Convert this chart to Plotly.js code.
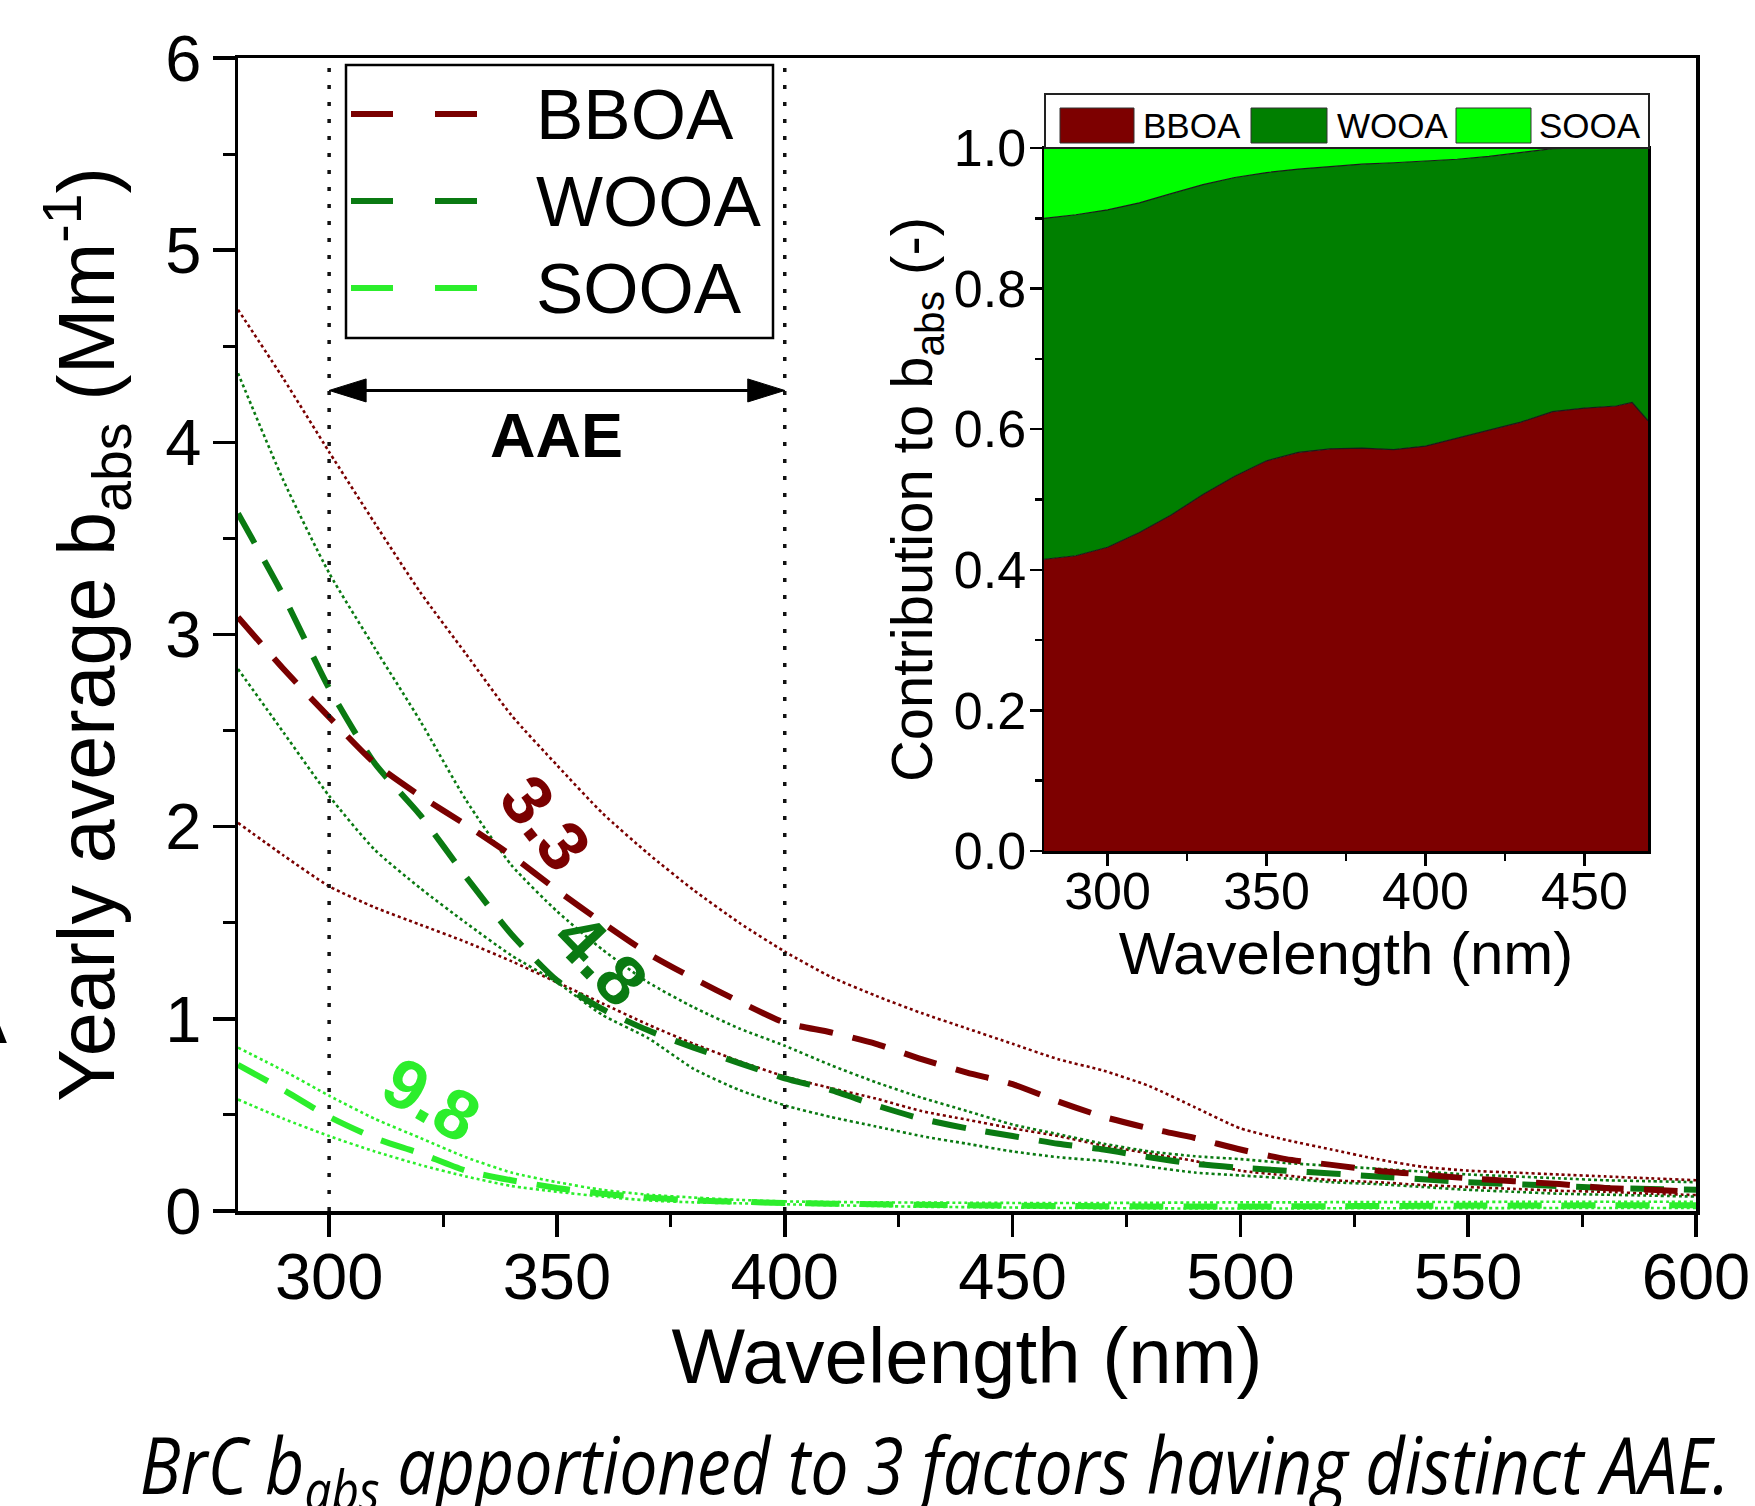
<!DOCTYPE html>
<html>
<head>
<meta charset="utf-8">
<script src="https://cdn.plot.ly/plotly-3.0.1.min.js"></script>
<style>
  html, body { margin: 0; padding: 0; background: #ffffff; }
  #chart { width: 1755px; height: 1506px; }
</style>
</head>
<body>
<div id="chart"></div>
<script>
// ---------------- data ----------------
const wavelength = [280,290,300,310,320,330,340,350,360,370,380,390,400,410,420,430,440,450,460,470,480,490,500,510,520,530,540,550,560,570,580,590,600];

const bboaMean  = [3.09,2.82,2.57,2.33,2.16,2.01,1.85,1.67,1.50,1.34,1.21,1.09,0.98,0.93,0.87,0.79,0.72,0.66,0.57,0.49,0.43,0.38,0.32,0.27,0.24,0.21,0.19,0.17,0.155,0.14,0.12,0.11,0.10];
const bboaUpper = [4.69,4.33,3.95,3.58,3.22,2.90,2.58,2.32,2.07,1.86,1.67,1.50,1.35,1.22,1.12,1.03,0.95,0.87,0.79,0.73,0.65,0.54,0.43,0.37,0.32,0.27,0.23,0.21,0.20,0.19,0.18,0.17,0.16];
const bboaLower = [2.02,1.85,1.69,1.58,1.49,1.40,1.30,1.19,1.08,0.97,0.87,0.78,0.70,0.64,0.585,0.52,0.475,0.43,0.39,0.34,0.30,0.26,0.21,0.185,0.16,0.15,0.135,0.125,0.115,0.105,0.10,0.09,0.083];

const wooaMean  = [3.63,3.20,2.72,2.33,2.06,1.74,1.44,1.20,1.05,0.94,0.85,0.77,0.69,0.63,0.55,0.48,0.43,0.39,0.35,0.32,0.28,0.245,0.225,0.21,0.195,0.18,0.165,0.15,0.14,0.13,0.12,0.115,0.11];
const wooaUpper = [4.36,3.80,3.32,2.93,2.55,2.14,1.80,1.56,1.36,1.19,1.06,0.95,0.86,0.76,0.67,0.59,0.52,0.45,0.40,0.35,0.31,0.285,0.27,0.25,0.235,0.22,0.205,0.19,0.18,0.17,0.16,0.155,0.15];
const wooaLower = [2.82,2.49,2.16,1.88,1.68,1.50,1.33,1.19,1.02,0.90,0.74,0.63,0.55,0.49,0.44,0.39,0.35,0.31,0.28,0.26,0.23,0.20,0.185,0.17,0.15,0.14,0.125,0.11,0.10,0.09,0.085,0.08,0.075];

const sooaMean  = [0.76,0.63,0.49,0.38,0.30,0.21,0.16,0.12,0.09,0.07,0.055,0.048,0.042,0.038,0.035,0.032,0.030,0.028,0.026,0.025,0.024,0.023,0.023,0.024,0.025,0.026,0.027,0.028,0.028,0.029,0.030,0.030,0.030];
const sooaUpper = [0.85,0.73,0.60,0.48,0.38,0.28,0.20,0.15,0.11,0.085,0.07,0.058,0.05,0.047,0.045,0.044,0.043,0.042,0.042,0.042,0.043,0.044,0.045,0.045,0.046,0.046,0.047,0.047,0.048,0.048,0.048,0.048,0.048];
const sooaLower = [0.58,0.48,0.39,0.31,0.24,0.18,0.13,0.10,0.075,0.055,0.045,0.04,0.035,0.030,0.026,0.022,0.020,0.018,0.016,0.015,0.014,0.013,0.013,0.013,0.014,0.014,0.015,0.015,0.015,0.016,0.016,0.016,0.016];

// inset: fractional contribution to b_abs
const insetWavelength = [280,290,300,310,320,330,340,350,360,370,380,390,400,410,420,430,440,450,460,465,470];
const fracBBOA = [0.415,0.420,0.432,0.453,0.478,0.507,0.533,0.555,0.567,0.572,0.573,0.571,0.576,0.587,0.598,0.610,0.625,0.630,0.633,0.638,0.612];
const fracWOOA = [0.485,0.485,0.480,0.469,0.457,0.441,0.425,0.410,0.403,0.402,0.404,0.408,0.405,0.397,0.390,0.384,0.374,0.370,0.367,0.362,0.388];
const fracSOOA = [0.100,0.095,0.088,0.078,0.065,0.052,0.042,0.035,0.030,0.026,0.023,0.021,0.019,0.016,0.012,0.006,0.001,0.000,0.000,0.000,0.000];

const factorNames = ['BBOA','WOOA','SOOA'];
const aaeLabels = ['3.3','4.8','9.8'];
const xTickVals = [300,350,400,450,500,550,600];
const insetXTickVals = [300,350,400,450];

// ---------------- styles ----------------
const C_BBOA = '#7a0000';
const C_WOOA = '#0a7a12';
const C_SOOA = '#2cee2c';
const F_BBOA = '#7d0000';
const F_WOOA = '#007f00';
const F_SOOA = '#00ff00';
const FONT = 'Liberation Sans, Arial, Helvetica, sans-serif';

const W = 1755, H = 1506;
const px = v => v / W;          // pixel -> paper x
const py = v => 1 - v / H;      // pixel -> paper y

function envelope(y, color) {
  return {x: wavelength, y: y, type: 'scatter', mode: 'lines', xaxis: 'x', yaxis: 'y',
          line: {color: color, width: 2.6, dash: '3px,3px', shape: 'spline', smoothing: 0.6},
          hoverinfo: 'skip', showlegend: false};
}
function meanLine(y, color, name) {
  return {x: wavelength, y: y, type: 'scatter', mode: 'lines', name: name, xaxis: 'x', yaxis: 'y',
          line: {color: color, width: 6, dash: '34px,20px', shape: 'spline', smoothing: 0.6},
          showlegend: false};
}
function area(y, fill, name) {
  return {x: insetWavelength, y: y, type: 'scatter', mode: 'lines', name: name, xaxis: 'x2', yaxis: 'y2',
          stackgroup: 'inset', fillcolor: fill, line: {color: '#1a1a1a', width: 1.2},
          showlegend: false};
}

const traces = [
  envelope(bboaUpper, C_BBOA), envelope(bboaLower, C_BBOA),
  envelope(wooaUpper, C_WOOA), envelope(wooaLower, C_WOOA),
  envelope(sooaUpper, C_SOOA), envelope(sooaLower, C_SOOA),
  meanLine(sooaMean, C_SOOA, factorNames[2]),
  meanLine(wooaMean, C_WOOA, factorNames[1]),
  meanLine(bboaMean, C_BBOA, factorNames[0]),
  area(fracBBOA, F_BBOA, factorNames[0]),
  area(fracWOOA, F_WOOA, factorNames[1]),
  area(fracSOOA, F_SOOA, factorNames[2])
];

// ---------------- decorations ----------------
const shapes = [
  // AAE window
  {type:'line', xref:'x', yref:'y', x0:300, x1:300, y0:0, y1:6, line:{color:'#111', width:3.5, dash:'4px,13px'}},
  {type:'line', xref:'x', yref:'y', x0:400, x1:400, y0:0, y1:6, line:{color:'#111', width:3.5, dash:'4px,13px'}},
  {type:'line', xref:'x', yref:'y', x0:302, x1:398, y0:4.27, y1:4.27, line:{color:'black', width:3}},
  {type:'path', xref:'x', yref:'y', xsizemode:'pixel', ysizemode:'pixel', xanchor:300, yanchor:4.27,
   path:'M0,0L37,11.5L37,-11.5Z', fillcolor:'black', line:{color:'black', width:1}},
  {type:'path', xref:'x', yref:'y', xsizemode:'pixel', ysizemode:'pixel', xanchor:400, yanchor:4.27,
   path:'M0,0L-37,11.5L-37,-11.5Z', fillcolor:'black', line:{color:'black', width:1}},
  // main legend box
  {type:'rect', xref:'paper', yref:'paper', x0:px(346), x1:px(773), y0:py(338), y1:py(65),
   fillcolor:'white', line:{color:'black', width:2.5}},
  // inset legend box
  {type:'rect', xref:'paper', yref:'paper', x0:px(1045), x1:px(1649), y0:py(148), y1:py(94),
   fillcolor:'white', line:{color:'#222', width:2}}
];
const legendColors = [C_BBOA, C_WOOA, C_SOOA];
const legendY = [114, 201, 288];
const insetColors = [F_BBOA, F_WOOA, F_SOOA];
const insetRectX = [[1060,1134],[1251,1327],[1456,1531]];
const insetTextX = [1141, 1335, 1537];
factorNames.forEach((n, i) => {
  shapes.push({type:'line', xref:'paper', yref:'paper', x0:px(351), x1:px(477), y0:py(legendY[i]), y1:py(legendY[i]),
               line:{color: legendColors[i], width:6, dash:'42px,42px'}});
  shapes.push({type:'rect', xref:'paper', yref:'paper', x0:px(insetRectX[i][0]), x1:px(insetRectX[i][1]),
               y0:py(143), y1:py(108), fillcolor: insetColors[i], line:{color:'#333', width:1}});
});

const annotations = [
  {text:'<b>AAE</b>', xref:'x', yref:'y', x:350, y:4.04, showarrow:false, font:{size:63, color:'black', family:FONT}},
  {text:'<b>'+aaeLabels[0]+'</b>', xref:'x', yref:'y', x:347.5, y:2.02, textangle:52, showarrow:false, font:{size:70, color:C_BBOA, family:FONT}},
  {text:'<b>'+aaeLabels[1]+'</b>', xref:'x', yref:'y', x:359.5, y:1.31, textangle:46, showarrow:false, font:{size:70, color:C_WOOA, family:FONT}},
  {text:'<b>'+aaeLabels[2]+'</b>', xref:'x', yref:'y', x:322.5, y:0.58, textangle:30, showarrow:false, font:{size:70, color:C_SOOA, family:FONT}},
  {text:'A', xref:'paper', yref:'paper', x:px(9), y:py(1018), xanchor:'right', yanchor:'middle', showarrow:false, font:{size:72, color:'black', family:FONT}},
  {text:'BrC b<sub>abs</sub> apportioned to 3 factors having distinct AAE.', xref:'paper', yref:'paper',
   x:px(935), y:py(1468), xanchor:'center', yanchor:'middle', showarrow:false,
   font:{size:78, color:'black', family:'Open Sans, Noto Sans, sans-serif', style:'italic'}}
];
factorNames.forEach((n, i) => {
  annotations.push({text:n, xref:'paper', yref:'paper', x:px(534), y:py(legendY[i]), xanchor:'left', yanchor:'middle',
                    showarrow:false, font:{size:71, color:'black', family:FONT}});
  annotations.push({text:n, xref:'paper', yref:'paper', x:px(insetTextX[i]), y:py(125), xanchor:'left', yanchor:'middle',
                    showarrow:false, font:{size:35, color:'black', family:FONT}});
});

const axisCommon = {showgrid:false, zeroline:false, showline:true, linecolor:'black', mirror:true,
                    ticks:'outside', tickcolor:'black', automargin:false};

const layout = {
  width: W, height: H,
  margin: {l:0, r:0, t:0, b:0, pad:0},
  paper_bgcolor: 'white', plot_bgcolor: 'white',
  showlegend: false,
  font: {family: FONT, color: 'black'},
  xaxis: Object.assign({}, axisCommon, {
    domain: [px(238), px(1696)], range: [280, 600], anchor: 'y',
    tickmode: 'array', tickvals: xTickVals, ticklen: 22, tickwidth: 3.5, linewidth: 3.5,
    minor: {ticks:'outside', ticklen:12, tickwidth:3, tickcolor:'black', dtick:25, tick0:275},
    tickfont: {size: 65}, ticklabelstandoff: -16,
    title: {text: 'Wavelength (nm)', font: {size: 78}, standoff: 0}
  }),
  yaxis: Object.assign({}, axisCommon, {
    domain: [py(1211), py(58)], range: [0, 6], anchor: 'x',
    tickmode: 'linear', tick0: 0, dtick: 1, ticklen: 22, tickwidth: 3.5, linewidth: 3.5,
    minor: {ticks:'outside', ticklen:12, tickwidth:3, tickcolor:'black', dtick:0.5},
    tickfont: {size: 65}, ticklabelstandoff: -2,
    title: {text: 'Yearly average b<sub>abs</sub> (Mm<sup>-1</sup>)', font: {size: 79}, standoff: 25}
  }),
  xaxis2: Object.assign({}, axisCommon, {
    domain: [px(1044), px(1648)], range: [280, 470], anchor: 'y2',
    tickmode: 'array', tickvals: insetXTickVals, ticklen: 12, tickwidth: 2.5, linewidth: 2.5,
    minor: {ticks:'outside', ticklen:7, tickwidth:2.5, tickcolor:'black', dtick:25, tick0:275},
    tickfont: {size: 52}, ticklabelstandoff: -19,
    title: {text: 'Wavelength (nm)', font: {size: 60}, standoff: 0}
  }),
  yaxis2: Object.assign({}, axisCommon, {
    domain: [py(851), py(148)], range: [0, 1], anchor: 'x2',
    tickmode: 'linear', tick0: 0, dtick: 0.2, tickformat: '.1f', ticklen: 12, tickwidth: 2.5, linewidth: 2.5,
    minor: {ticks:'outside', ticklen:7, tickwidth:2.5, tickcolor:'black', dtick:0.1},
    tickfont: {size: 52}, ticklabelstandoff: -7,
    title: {text: 'Contribution to b<sub>abs</sub> (-)', font: {size: 58}, standoff: 3}
  }),
  shapes: shapes,
  annotations: annotations
};

Plotly.newPlot('chart', traces, layout, {staticPlot: true, displayModeBar: false}).then(gd => {
  // squeeze the caption to the narrow width of the original (condensed italic face)
  gd.querySelectorAll('.annotation-text').forEach(t => {
    if (t.textContent.indexOf('BrC') === 0) {
      t.setAttribute('textLength', '1590');
      t.setAttribute('lengthAdjust', 'spacingAndGlyphs');
    }
  });
});
</script>
</body>
</html>
